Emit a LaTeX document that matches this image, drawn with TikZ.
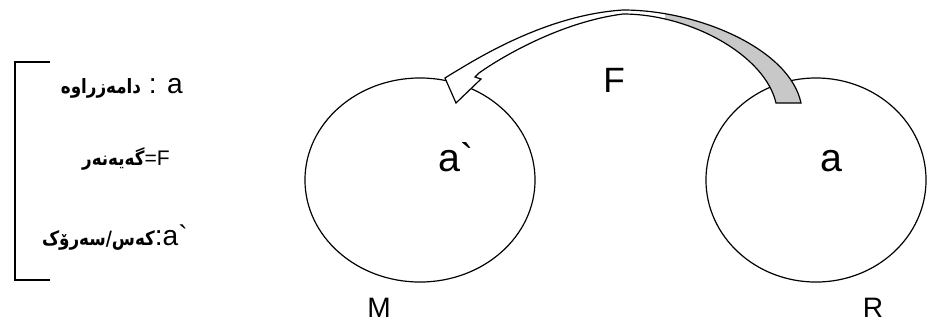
\documentclass[tikz,border=0pt]{standalone}
\usepackage{fontspec}
\setmainfont{Liberation Sans}[Ligatures=TeXOff]
\newfontfamily\kurdfont[Script=Arabic, FakeStretch=0.85]{DejaVu Sans}
\TeXXeTstate=1
\usetikzlibrary{shapes.geometric}
\definecolor{bandgray}{RGB}{200,200,200}
% the bent arrow from R over to M
\newcommand\farrow{(453,73) .. controls (475,60) and (545,15) .. (623,10)
  .. controls (700,10) and (790,50) .. (801,103) -- (776,103)
  .. controls (765,55) and (690,14) .. (623,14)
  .. controls (560,22) and (500,58) .. (479,73)
  -- (475,77) -- (481,79) -- (456,103) -- (445,78) -- cycle}
\newcommand\kurd[1]{{\kurdfont\bfseries\fontsize{14}{16}\selectfont\beginR #1\endR}}

\begin{document}
\begin{tikzpicture}[x=0.025cm, y=-0.025cm,
          region/.style={
              draw,
              ellipse,
              line width=0.85pt,
              inner sep=0pt,
              minimum height=5.1cm
            },
          bigtxt/.style={font=\fontsize{28}{30}\selectfont},
          sidetxt/.style={font=\fontsize{20}{22}\selectfont},
          keytxt/.style={font=\fontsize{20}{22}\selectfont, anchor=base east, inner sep=0pt}
        ]
        \useasboundingbox (0,0) rectangle (928,324);
        % bracket of the key
        \draw[line width=1.8pt] (50,62) -- (15,62) -- (15,280) -- (50,280);
        \node[keytxt] (keya) at (183,93) {\kurd{دامەزراوە} : a};
        \node[keytxt] (keyf) at (170,165) {\kurd{گەیەنەر}{\fontsize{15}{17}\selectfont=F}};
        \node[keytxt] (keyb) at (188,245) {\kurd{کەس/سەرۆک}:a\symbol{96}};
        % the two regions
        \node[region, minimum width=5.75cm] (m) at (420,180) {};
        \node[region, minimum width=5.5cm] (r) at (816,180) {};
        \node[bigtxt, anchor=base] (aprime) at (456,171) {a\symbol{96}};
        \node[bigtxt, anchor=base] (aorig) at (831,171) {a};
        \node[sidetxt, anchor=base] (mlab) at (379,317) {M};
        \node[sidetxt, anchor=base] (rlab) at (873,317) {R};
        % the force arrow
        \fill[white] \farrow;
        \begin{scope}
          \clip (665,0) rectangle (820,120);
          \fill[bandgray] \farrow;
        \end{scope}
        \draw[line width=0.85pt, line join=miter] \farrow;
        \node[font=\fontsize{25}{27}\selectfont] (flab) at (614,80) {F};
      \end{tikzpicture}
\end{document}
